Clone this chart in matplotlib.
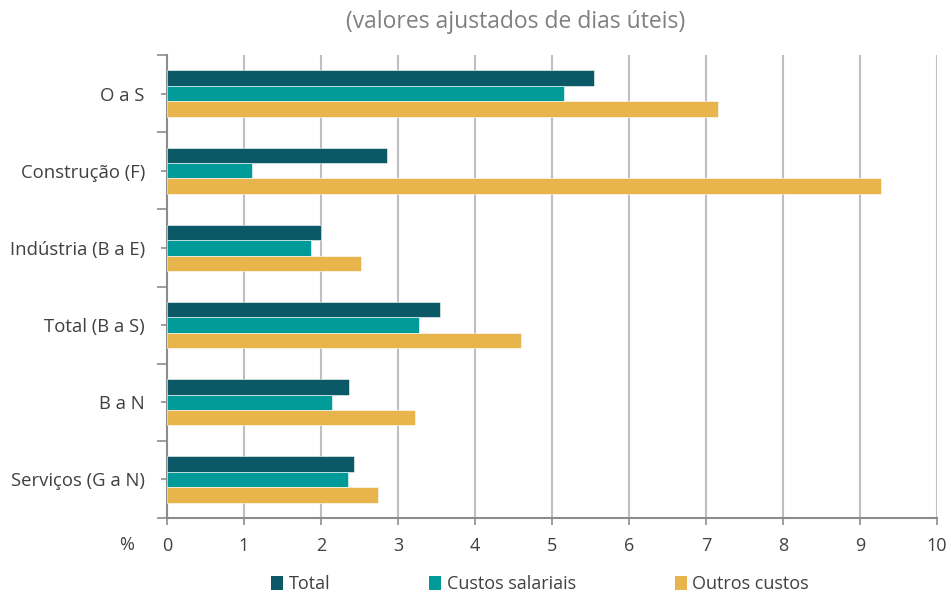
import numpy as np
import matplotlib
matplotlib.use('Agg')
import matplotlib.pyplot as plt
from matplotlib.patches import Patch

# dados
categorias = ['O a S', 'Construção (F)', 'Indústria (B a E)',
              'Total (B a S)', 'B a N', 'Serviços (G a N)']
total = [5.54, 2.86, 2.00, 3.54, 2.36, 2.43]
custos_salariais = [5.16, 1.11, 1.87, 3.27, 2.14, 2.35]
outros_custos = [7.15, 9.27, 2.52, 4.60, 3.22, 2.74]
series_nomes = ['Total', 'Custos salariais', 'Outros custos']
cores = ['#0B5866', '#009A98', '#E8B44C']
xticks = list(range(0, 11))

plt.rcParams['font.family'] = ['Open Sans', 'DejaVu Sans']

fig = plt.figure(figsize=(9.51, 5.93), dpi=100)
ax = fig.add_axes([167 / 951, 1 - 518 / 593, (937 - 167) / 951, (518 - 55) / 593])

n = len(categorias)
pos = np.arange(n)[::-1]  # O a S em cima
h = 0.2
for k, vals in enumerate([total, custos_salariais, outros_custos]):
    ax.barh(pos + (1 - k) * h, vals, height=h, color=cores[k],
            edgecolor='white', linewidth=0.4, zorder=3)

ax.set_xlim(0, 10)
ax.set_ylim(-0.5, n - 0.5)
ax.set_xticks(xticks)
ax.set_xticklabels([str(v) for v in xticks], fontsize=13, color='#404040')
ax.set_yticks(pos)
ax.set_yticklabels(categorias, fontsize=13.3, color='#404040')
ax.set_yticks(np.arange(-0.5, n, 1), minor=True)

ax.grid(axis='x', color='#BFBFBF', linewidth=1.5, zorder=0)
ax.tick_params(axis='x', length=5, width=1.2, color='#8C8C8C', pad=9)
ax.tick_params(axis='y', which='major', length=4, width=1.2, color='#8C8C8C', pad=12)
ax.tick_params(axis='y', which='minor', length=7, width=1.2, color='#8C8C8C')

for s in ['top', 'right']:
    ax.spines[s].set_visible(False)
for s in ['left', 'bottom']:
    ax.spines[s].set_color('#8C8C8C')
    ax.spines[s].set_linewidth(1.5)

fig.text(127 / 951, 1 - 545 / 593, '%', fontsize=13, color='#404040',
         ha='center', va='center')
fig.text(516 / 951, 1 - 22 / 593, '(valores ajustados de dias úteis)',
         fontsize=16.5, color='#808080', ha='center', va='center')

handles = [Patch(facecolor=c, edgecolor='none') for c in cores]
fig.legend(handles, series_nomes, loc='center', ncol=3,
           bbox_to_anchor=(540 / 951, 1 - 584 / 593), frameon=False,
           fontsize=13, handlelength=0.65, handleheight=0.85, handletextpad=0.3,
           columnspacing=5.5, labelcolor='#404040')

fig.savefig('out.png', dpi=100)
